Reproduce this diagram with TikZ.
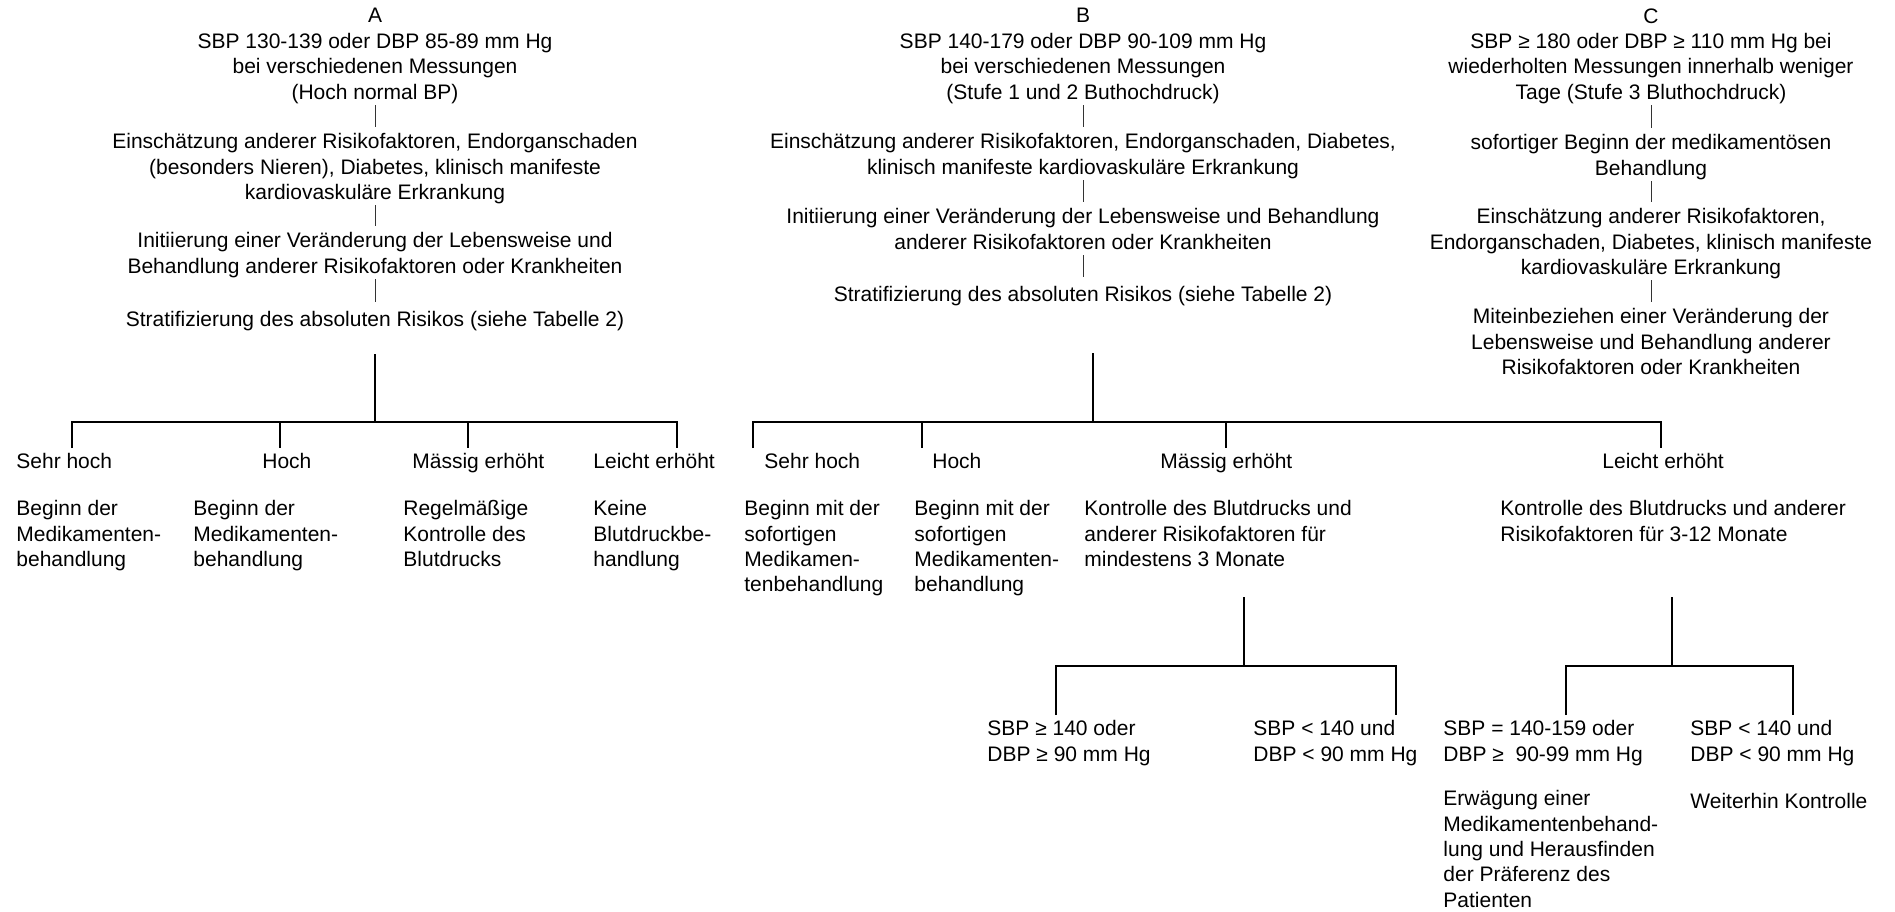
\documentclass[tikz,border=0pt]{standalone}
\usepackage{fontspec}
\setmainfont{Liberation Sans}
\usetikzlibrary{calc}

\tikzset{
  txt/.style={inner sep=0pt, font=\fontsize{10.5}{12.7}\selectfont,
              execute at begin node=\strut, execute at end node=\strut},
  coltxt/.style={txt, align=center, anchor=north},
  leaftxt/.style={txt, align=left, anchor=north west},
  link/.style={black!80, line width=0.45pt, shorten <=-1pt, shorten >=3pt},
  branch/.style={black, line width=1pt},
}

\begin{document}
\begin{tikzpicture}[x=0.5pt, y=-0.5pt]
\useasboundingbox (0,0) rectangle (1895,911);

\def\xA{375}
\def\xB{1083}
\def\xC{1651}

% Spalte A
\node[coltxt] (A0) at (\xA,8) {A\\SBP 130-139 oder DBP 85-89 mm Hg\\bei verschiedenen Messungen\\(Hoch normal BP)};
\node[coltxt] (A1) at (\xA,133) {Einschätzung anderer Risikofaktoren, Endorganschaden\\(besonders Nieren), Diabetes, klinisch manifeste\\kardiovaskuläre Erkrankung};
\node[coltxt] (A2) at (\xA,232) {Initiierung einer Veränderung der Lebensweise und\\Behandlung anderer Risikofaktoren oder Krankheiten};
\node[coltxt] (A3) at (\xA,308) {Stratifizierung des absoluten Risikos (siehe Tabelle 2)};
\foreach \i/\j in {A0/A1, A1/A2, A2/A3}
  \draw[link] (\i.south) -- (\j.north);

% Spalte B
\node[coltxt] (B0) at (\xB,8) {B\\SBP 140-179 oder DBP 90-109 mm Hg\\bei verschiedenen Messungen\\(Stufe 1 und 2 Buthochdruck)};
\node[coltxt] (B1) at (\xB,133) {Einschätzung anderer Risikofaktoren, Endorganschaden, Diabetes,\\klinisch manifeste kardiovaskuläre Erkrankung};
\node[coltxt] (B2) at (\xB,208) {Initiierung einer Veränderung der Lebensweise und Behandlung\\anderer Risikofaktoren oder Krankheiten};
\node[coltxt] (B3) at (\xB,283) {Stratifizierung des absoluten Risikos (siehe Tabelle 2)};
\foreach \i/\j in {B0/B1, B1/B2, B2/B3}
  \draw[link] (\i.south) -- (\j.north);

% Spalte C
\node[coltxt] (C0) at (\xC,8) {C\\SBP ≥ 180 oder DBP ≥ 110 mm Hg bei\\wiederholten Messungen innerhalb weniger\\Tage (Stufe 3 Bluthochdruck)};
\node[coltxt] (C1) at (\xC,134) {sofortiger Beginn der medikamentösen\\Behandlung};
\node[coltxt] (C2) at (\xC,208) {Einschätzung anderer Risikofaktoren,\\Endorganschaden, Diabetes, klinisch manifeste\\kardiovaskuläre Erkrankung};
\node[coltxt] (C3) at (\xC,308) {Miteinbeziehen einer Veränderung der\\Lebensweise und Behandlung anderer\\Risikofaktoren oder Krankheiten};
\foreach \i/\j in {C0/C1, C1/C2, C2/C3}
  \draw[link] (\i.south) -- (\j.north);

% Verzweigung A
\coordinate (Atop) at (375,354);
\coordinate (Ajoin) at (375,422);
\foreach \n/\x in {1/72, 2/280, 3/468, 4/677}
  \coordinate (At\n) at (\x,448);
\draw[branch] (Atop) -- (Ajoin);
\draw[branch] (At1) |- (Ajoin) -| (At4);
\foreach \n in {2,3}
  \draw[branch] (Ajoin -| At\n) -- (At\n);

% Verzweigung B
\coordinate (Btop) at (1093,353);
\coordinate (Bjoin) at (1093,422);
\foreach \n/\x in {1/753, 2/922, 3/1226, 4/1661}
  \coordinate (Bt\n) at (\x,448);
\draw[branch] (Btop) -- (Bjoin);
\draw[branch] (Bt1) |- (Bjoin) -| (Bt4);
\foreach \n in {2,3}
  \draw[branch] (Bjoin -| Bt\n) -- (Bt\n);

% Risikostufen
\foreach \n/\x/\t in {a1/16/Sehr hoch, a2/262/Hoch, a3/412/Mässig erhöht, a4/593/Leicht erhöht,
                      b1/764/Sehr hoch, b2/932/Hoch, b3/1160/Mässig erhöht, b4/1602/Leicht erhöht}
  \node[leaftxt] (\n) at (\x,450) {\t};

% Maßnahmen
\node[leaftxt] (a1d) at (16,500) {Beginn der\\Medikamenten-\\behandlung};
\node[leaftxt] (a2d) at (193,500) {Beginn der\\Medikamenten-\\behandlung};
\node[leaftxt] (a3d) at (403,500) {Regelmäßige\\Kontrolle des\\Blutdrucks};
\node[leaftxt] (a4d) at (593,500) {Keine\\Blutdruckbe-\\handlung};
\node[leaftxt] (b1d) at (744,500) {Beginn mit der\\sofortigen\\Medikamen-\\tenbehandlung};
\node[leaftxt] (b2d) at (914,500) {Beginn mit der\\sofortigen\\Medikamenten-\\behandlung};
\node[leaftxt] (b3d) at (1084,500) {Kontrolle des Blutdrucks und\\anderer Risikofaktoren für\\mindestens 3 Monate};
\node[leaftxt] (b4d) at (1500,500) {Kontrolle des Blutdrucks und anderer\\Risikofaktoren für 3-12 Monate};

% Unterverzweigungen
\coordinate (Mtop) at (1244,597);
\coordinate (Mjoin) at (1244,666);
\coordinate (Mt1) at (1056,715);
\coordinate (Mt2) at (1396,715);
\draw[branch] (Mtop) -- (Mjoin);
\draw[branch] (Mt1) |- (Mjoin) -| (Mt2);

\coordinate (Ltop) at (1672,597);
\coordinate (Ljoin) at (1672,666);
\coordinate (Lt1) at (1566,715);
\coordinate (Lt2) at (1793,715);
\draw[branch] (Ltop) -- (Ljoin);
\draw[branch] (Lt1) |- (Ljoin) -| (Lt2);

\node[leaftxt] (s1) at (987,720) {SBP ≥ 140 oder\\DBP ≥ 90 mm Hg};
\node[leaftxt] (s2) at (1253,720) {SBP < 140 und\\DBP < 90 mm Hg};
\node[leaftxt] (s3) at (1443,720) {SBP = 140-159 oder\\DBP ≥~ 90-99 mm Hg};
\node[leaftxt] (s4) at (1690,720) {SBP < 140 und\\DBP < 90 mm Hg};
\node[leaftxt] (s3d) at (1443,790) {Erwägung einer\\Medikamentenbehand-\\lung und Herausfinden\\der Präferenz des\\Patienten};
\node[leaftxt] (s4d) at (1690,790) {Weiterhin Kontrolle};

\end{tikzpicture}
\end{document}
